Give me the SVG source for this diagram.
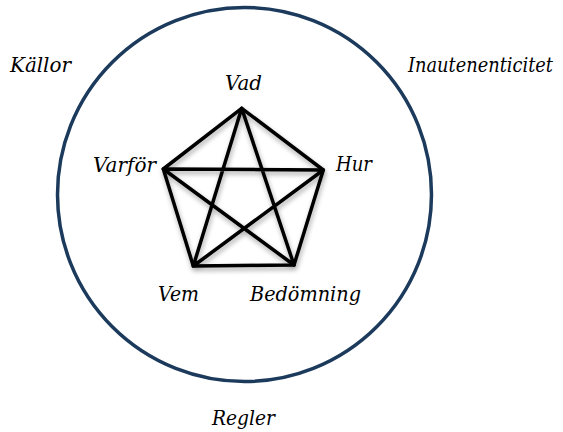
<svg xmlns="http://www.w3.org/2000/svg" width="563" height="432" viewBox="0 0 563 432">
<style>
.edge{stroke:#000;stroke-width:3.5;fill:none;stroke-linecap:round;stroke-linejoin:round}
.lbl{font-family:"DejaVu Serif","Liberation Serif",serif;font-size:21px;font-style:italic;fill:#000}
</style>
<defs>
<filter id="sh" x="-20%" y="-20%" width="140%" height="140%">
<feGaussianBlur in="SourceAlpha" stdDeviation="2.5"/>
<feOffset dx="1" dy="3" result="b"/>
<feComponentTransfer><feFuncA type="linear" slope="0.35"/></feComponentTransfer>
<feMerge><feMergeNode/><feMergeNode in="SourceGraphic"/></feMerge>
</filter>
</defs>
<rect width="563" height="432" fill="#fff"/>
<g id="circle">
<circle cx="244.5" cy="194.5" r="187" fill="none" stroke="#1c3a5c" stroke-width="3.5"/>
</g>
<g id="connectors" class="edge" filter="url(#sh)">
<path d="M241.7,108.3 L323.3,170 L294,265 L193.3,266 L163.3,169 Z"/>
<path d="M241.7,108.3 L294,265 M241.7,108.3 L193.3,266 M163.3,169 L323.3,170 M163.3,169 L294,265 M323.3,170 L193.3,266"/>
</g>
<g id="vad"><text class="lbl" x="225" y="90" textLength="37" lengthAdjust="spacingAndGlyphs">Vad</text></g>
<g id="varfor"><text class="lbl" x="93" y="172" textLength="63" lengthAdjust="spacingAndGlyphs">Varför</text></g>
<g id="hur"><text class="lbl" x="336" y="171" textLength="36" lengthAdjust="spacingAndGlyphs">Hur</text></g>
<g id="vem"><text class="lbl" x="158" y="301" textLength="41" lengthAdjust="spacingAndGlyphs">Vem</text></g>
<g id="bedomning"><text class="lbl" x="250" y="301" textLength="111" lengthAdjust="spacingAndGlyphs">Bedömning</text></g>
<g id="kallor"><text class="lbl" x="10" y="72" textLength="61" lengthAdjust="spacingAndGlyphs">Källor</text></g>
<g id="inautenenticitet"><text class="lbl" x="408" y="72" textLength="145" lengthAdjust="spacingAndGlyphs">Inautenenticitet</text></g>
<g id="regler"><text class="lbl" x="212" y="425" textLength="63" lengthAdjust="spacingAndGlyphs">Regler</text></g>
</svg>
